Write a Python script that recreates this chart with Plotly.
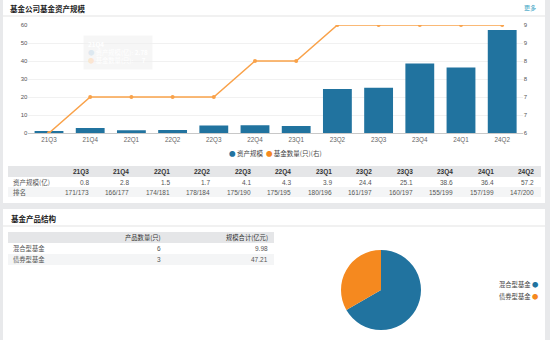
import plotly.graph_objects as go

# ---------------- data ----------------
quarters = ["21Q3", "21Q4", "22Q1", "22Q2", "22Q3", "22Q4",
            "23Q1", "23Q2", "23Q3", "23Q4", "24Q1", "24Q2"]
asset_size = [0.8, 2.8, 1.5, 1.7, 4.1, 4.3, 3.9, 24.4, 25.1, 38.6, 36.4, 57.2]
fund_count = [6, 7, 7, 7, 7, 8, 8, 9, 9, 9, 9, 9]
rank_text = ["171/173", "166/177", "174/181", "178/184", "175/190", "175/195",
             "180/196", "161/197", "160/197", "155/199", "157/199", "147/200"]
table1_rows = ["资产规模(亿)", "排名"]

right_tickvals = [6, 6.5, 7, 7.5, 8, 8.5, 9]
right_ticktext = ["6", "7", "7", "8", "8", "9", "9"]

product_types = ["混合型基金", "债券型基金"]
product_counts = [6, 3]
product_scale = ["9.98", "47.21"]
table2_header = ["产品数量(只)", "规模合计(亿元)"]

# ---------------- style ----------------
W, H = 550, 340
BLUE = "#21739f"
ORANGE_LINE = "#f9a24a"
ORANGE_PIE = "#f5891f"
HDR_BG = "#e5e6e8"
ALT_BG = "#f4f5f6"
FONT = "Liberation Sans, Noto Sans CJK SC, sans-serif"
CJK = "Noto Sans CJK SC, Liberation Sans, sans-serif"


def px_x(v):
    return v / W


def px_y(v):
    return 1 - v / H


def rect(x0, x1, y0, y1, color):
    return dict(type="rect", xref="paper", yref="paper", x0=px_x(x0), x1=px_x(x1),
                y0=px_y(y1), y1=px_y(y0), fillcolor=color, line=dict(width=0), layer="below")


def text(t, x, y, anchor="left", size=6.5, color="#555", family=FONT, **kw):
    d = dict(text=t, x=px_x(x), y=px_y(y), xref="paper", yref="paper",
             xanchor=anchor, yanchor="middle", showarrow=False,
             font=dict(size=size, color=color, family=family))
    d.update(kw)
    return d


fig = go.Figure()

fig.add_trace(go.Bar(
    x=quarters, y=asset_size, name="资产规模",
    marker=dict(color=BLUE, line=dict(width=0)), width=0.7,
    xaxis="x", yaxis="y", showlegend=False,
))
fig.add_trace(go.Scatter(
    x=quarters, y=fund_count, name="基金数量(只)(右)",
    mode="lines+markers", line=dict(color=ORANGE_LINE, width=1.5),
    marker=dict(color=ORANGE_LINE, size=4),
    xaxis="x", yaxis="y2", showlegend=False,
))

# ---------- pie ----------
fig.add_trace(go.Pie(
    labels=product_types, values=product_counts,
    marker=dict(colors=[BLUE, ORANGE_PIE], line=dict(width=0)),
    sort=False, direction="clockwise", rotation=0,
    textinfo="none", hoverinfo="label+value", showlegend=False,
    domain=dict(x=[px_x(341), px_x(421)], y=[px_y(330), px_y(250)]),
))

# ---------- panels / decorations ----------
shapes = [
    rect(3, 545, 0, 203, "white"),
    rect(3, 545, 209, 340, "white"),
    dict(type="line", xref="paper", yref="paper", x0=px_x(3), x1=px_x(545),
         y0=px_y(16), y1=px_y(16), line=dict(color="#e3e3e3", width=1)),
    dict(type="line", xref="paper", yref="paper", x0=px_x(3), x1=px_x(545),
         y0=px_y(226), y1=px_y(226), line=dict(color="#e3e3e3", width=1)),
]

annotations = [
    text("<b>基金公司基金资产规模</b>", 8, 8, size=7.5, color="#222", family=CJK),
    text("更多", 538, 7, anchor="right", size=6, color="#3aa3c4", family=CJK),
    text("<b>基金产品结构</b>", 9, 218, size=7.5, color="#222", family=CJK),
    text("<span style='color:%s'>●</span> 资产规模  <span style='color:%s'>●</span> 基金数量(只)(右)"
         % (BLUE, ORANGE_PIE), 275, 153, anchor="center", size=6.5, color="#444", family=CJK),
    text("%s <span style='color:%s'>●</span>" % (product_types[0], BLUE), 540, 284,
         anchor="right", size=6.3, color="#444", family=CJK),
    text("%s <span style='color:%s'>●</span>" % (product_types[1], ORANGE_PIE), 540, 296,
         anchor="right", size=6.3, color="#444", family=CJK),
]

# faint ghost tooltip
annotations.append(dict(
    text="<b>%s</b><br><span style='color:#dde8f0'>●</span> 资产规模(亿): <b>2.78</b><br>"
         "<span style='color:#fbe6d2'>●</span> 基金数量(只):      <b>%d</b>"
         % (quarters[1], fund_count[1]),
    x=px_x(83), y=px_y(35), xref="paper", yref="paper",
    xanchor="left", yanchor="top", showarrow=False, align="left",
    bgcolor="rgba(238,238,238,0.55)", borderpad=4, width=60,
    font=dict(size=6.3, color="#ffffff", family=CJK)))

# ---------- table 1 (quarters) ----------
t1_x0, t1_x1 = 8, 541
t1_rows_y = [(166, 177), (177, 187), (187, 197)]
t1_label_x = 11
t1_col_right = [91 + i * 40.45 for i in range(len(quarters))]
shapes.append(rect(t1_x0, t1_x1, *t1_rows_y[0], HDR_BG))
shapes.append(rect(t1_x0, t1_x1, *t1_rows_y[2], ALT_BG))
for q, xr in zip(quarters, t1_col_right):
    annotations.append(text("<b>%s</b>" % q, xr, sum(t1_rows_y[0]) / 2, anchor="right",
                            size=6.5, color="#333"))
row_vals = [["%.1f" % a for a in asset_size], rank_text]
for r, (label, vals) in enumerate(zip(table1_rows, row_vals)):
    yc = sum(t1_rows_y[r + 1]) / 2
    annotations.append(text(label, t1_label_x, yc, size=6.5, color="#555", family=CJK))
    for v, xr in zip(vals, t1_col_right):
        annotations.append(text(v, xr, yc, anchor="right", size=6.5, color="#555"))

# ---------- table 2 (product structure) ----------
t2_x0, t2_x1 = 8, 274
t2_rows_y = [(232, 243), (243, 254), (254, 265)]
t2_col_right = [163, 270]
shapes.append(rect(t2_x0, t2_x1, *t2_rows_y[0], HDR_BG))
shapes.append(rect(t2_x0, t2_x1, *t2_rows_y[2], ALT_BG))
for h, xr in zip(table2_header, t2_col_right):
    annotations.append(text(h, xr, sum(t2_rows_y[0]) / 2, anchor="right",
                            size=6.3, color="#333", family=CJK))
for r, (ptype, cnt, scl) in enumerate(zip(product_types, product_counts, product_scale)):
    yc = sum(t2_rows_y[r + 1]) / 2
    annotations.append(text(ptype, t1_label_x, yc, size=6.3, color="#555", family=CJK))
    annotations.append(text(str(cnt), t2_col_right[0], yc, anchor="right", size=6.5))
    annotations.append(text(scl, t2_col_right[1], yc, anchor="right", size=6.5))

fig.update_layout(
    width=W, height=H,
    margin=dict(l=0, r=0, t=0, b=0),
    paper_bgcolor="#e8e9eb", plot_bgcolor="white",
    font=dict(family=FONT, size=6.5, color="#555"),
    bargap=0.3,
    xaxis=dict(domain=[px_x(28.4), px_x(522.8)], type="category", automargin=False,
               range=[-0.5, len(quarters) - 0.5],
               showgrid=False, showline=True, linecolor="#c8c8c8", linewidth=1,
               ticks="", tickfont=dict(size=6.3, color="#666"), anchor="y",
               fixedrange=True),
    yaxis=dict(domain=[px_y(133), px_y(25)], range=[0, 60], dtick=10, automargin=False,
               showgrid=True, gridcolor="#f1f1f1", zeroline=False, showline=False,
               tickfont=dict(size=6, color="#555"), ticks="", fixedrange=True),
    yaxis2=dict(overlaying="y", side="right", range=[6, 9], anchor="x", automargin=False,
                tickvals=right_tickvals, ticktext=right_ticktext,
                showgrid=False, zeroline=False, showline=False,
                tickfont=dict(size=6, color="#555"), ticks="", fixedrange=True),
    shapes=shapes,
    annotations=annotations,
    showlegend=False,
)

fig.write_html("out.html")
